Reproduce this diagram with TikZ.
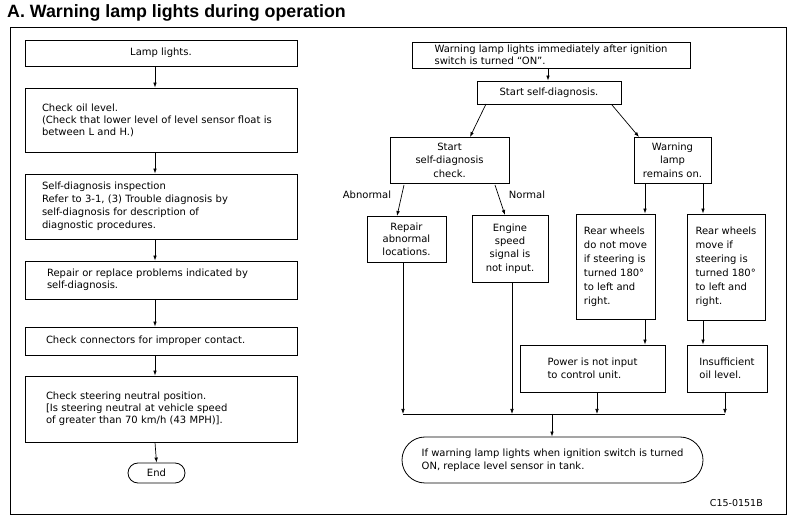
\documentclass[tikz,border=0pt]{standalone}
\usepackage{fontspec}
\setmainfont{DejaVu Sans}
\newfontfamily\titlefont{Liberation Sans}
\usetikzlibrary{arrows.meta}
\begin{document}
\begin{tikzpicture}[x=1pt,y=-1pt,
  box/.style={draw, line width=0.8pt, inner sep=0pt, align=center,
    font=\fontsize{10}{13.5}\selectfont},
  lbox/.style={box, align=left},
  wbox/.style={lbox, font=\fontsize{10}{12}\selectfont},
  arr/.style={line width=0.7pt, -{Latex[length=5pt,width=3.6pt]}},
  ln/.style={line width=0.7pt},
  lbl/.style={font=\fontsize{10}{12}\selectfont, inner sep=0pt}]
\useasboundingbox (0,0) rectangle (796,526);
\node[anchor=base west, inner sep=0pt, font=\titlefont\fontsize{17.8}{20}\bfseries\selectfont] (title) at (7,18) {A.\ Warning lamp lights during operation};
\draw[line width=1pt] (10,28) rectangle (786,515);
% left column
\node[box, minimum width=272pt, minimum height=26pt] (b1) at (161,53) {Lamp lights.};
\node[wbox, text width=238pt, inner xsep=17pt, minimum height=64pt] (b2) at (161,120) {Check oil level.\\(Check that lower level of level sensor float is\\between L and H.)};
\node[wbox, text width=238pt, inner xsep=17pt, minimum height=65pt, font=\fontsize{10}{13}\selectfont] (b3) at (161,206.5) {Self-diagnosis inspection\\Refer to 3-1, (3) Trouble diagnosis by\\self-diagnosis for description of\\diagnostic procedures.};
\node[wbox, text width=238pt, inner xsep=17pt, minimum height=38pt] (b4) at (161,280) {\hspace*{5pt}Repair or replace problems indicated by\\\hspace*{5pt}self-diagnosis.};
\node[wbox, text width=238pt, inner xsep=17pt, minimum height=28pt] (b5) at (161,341) {\hspace*{4pt}Check connectors for improper contact.};
\node[wbox, text width=238pt, inner xsep=17pt, minimum height=66pt] (b6) at (161,409) {\hspace*{4pt}Check steering neutral position.\\\hspace*{4pt}{[}Is steering neutral at vehicle speed\\\hspace*{4pt}of greater than 70 km/h (43 MPH)].};
\node[box, rounded corners=10pt, minimum width=57pt, minimum height=20pt] (end) at (156.5,473) {End};
\draw[arr] ([xshift=-6pt]b1.south) -- ([xshift=-6pt]b2.north);
\draw[arr] ([xshift=-6pt]b2.south) -- ([xshift=-6pt]b3.north);
\draw[arr] ([xshift=-6pt]b3.south) -- ([xshift=-6pt]b4.north);
\draw[arr] ([xshift=-6pt]b4.south) -- ([xshift=-6pt]b5.north);
\draw[arr] ([xshift=-6pt]b5.south) -- ([xshift=-6pt]b6.north);
\draw[arr] ([xshift=-6pt]b6.south) -- (end.north);
% right part
\node[lbox, minimum width=278pt, minimum height=26pt, font=\fontsize{10}{12}\selectfont] (t1) at (551,55) {Warning lamp lights immediately after ignition\\switch is turned ``ON''.};
\node[box, minimum width=144pt, minimum height=23pt] (t2) at (549,92.5) {Start self-diagnosis.};
\node[box, minimum width=119pt, minimum height=46pt] (sc) at (449.5,160) {Start\\self-diagnosis\\check.};
\node[box, minimum width=77pt, minimum height=46pt] (wl) at (672.5,160) {Warning\\lamp\\remains on.};
\node[box, minimum width=79pt, minimum height=46pt, font=\fontsize{10}{12.5}\selectfont] (ra) at (406.5,239) {Repair\\abnormal\\locations.};
\node[box, minimum width=76pt, minimum height=67pt, font=\fontsize{10}{13.3}\selectfont] (es) at (510,248.5) {Engine\\speed\\signal is\\not input.};
\node[lbox, minimum width=79pt, minimum height=105pt, font=\fontsize{10}{14}\selectfont] (rw1) at (615.5,266.5) {Rear wheels\\do not move\\if steering is\\turned 180°\\to left and\\right.};
\node[lbox, minimum width=78pt, minimum height=106pt, font=\fontsize{10}{14}\selectfont] (rw2) at (726,267) {Rear wheels\\move if\\steering is\\turned 180°\\to left and\\right.};
\node[lbox, minimum width=145pt, minimum height=47pt, font=\fontsize{10}{12.5}\selectfont] (pw) at (592.5,368.5) {Power is not input\\to control unit.};
\node[lbox, minimum width=80pt, minimum height=47pt, font=\fontsize{10}{12.5}\selectfont] (io) at (727,368.5) {Insufficient\\oil level.};
\node[lbox, minimum width=301pt, minimum height=46pt, rounded corners=23pt, font=\fontsize{10}{12.5}\selectfont] (fin) at (552.5,460) {If warning lamp lights when ignition switch is turned\\ON, replace level sensor in tank.};
\node[lbl] (abn) at (367,195) {Abnormal};
\node[lbl] (nor) at (527,195) {Normal};
\node[anchor=base east, inner sep=0pt, font=\fontsize{9.5}{10}\selectfont] (code) at (763,507) {C15-0151B};
\coordinate (jA) at (403,414);
\coordinate (jB) at (512,414);
\coordinate (jC) at (597,414);
\coordinate (jD) at (725,414);
\coordinate (jM) at (552,414);
\draw[arr] (t1.south -| 548,0) -- (t2.north -| 548,0);
\draw[arr] (486,104) -- (470,137);
\draw[arr] (612,105) -- (639,137);
\draw[arr] (404,185) -- (397,216);
\draw[arr] (495,185) -- (505,215);
\draw[arr] (wl.south -| 645,0) -- (rw1.north -| 645,0);
\draw[arr] (wl.south -| 703,0) -- (rw2.north -| 703,0);
\draw[arr] (rw1.south -| 645,0) -- (pw.north -| 645,0);
\draw[arr] (rw2.south -| 703,0) -- (io.north -| 703,0);
\draw[arr] (ra.south -| jA) -- (jA);
\draw[arr] (es.south -| jB) -- (jB);
\draw[arr] (pw.south -| jC) -- (jC);
\draw[arr] (io.south -| jD) -- (jD);
\draw[ln] (jA) -- (jD);
\draw[arr] (jM) -- (fin.north -| jM);
\end{tikzpicture}
\end{document}
